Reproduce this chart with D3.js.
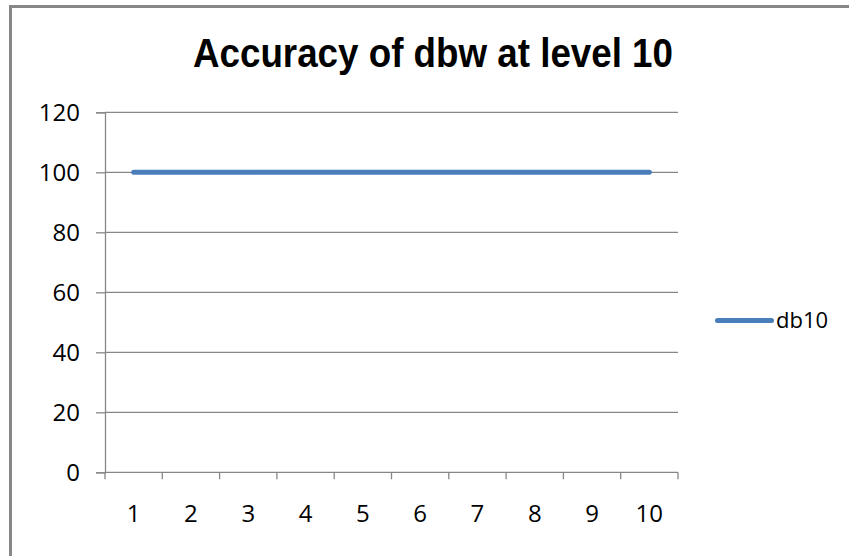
<!DOCTYPE html>
<html><head><meta charset="utf-8">
<script src="https://cdn.jsdelivr.net/npm/d3@7"></script>
<style>html,body{margin:0;padding:0;background:#fff;overflow:hidden}</style>
</head><body>
<script>
const categories = ["1","2","3","4","5","6","7","8","9","10"];
const seriesName = "db10";
const values = [100,100,100,100,100,100,100,100,100,100];
const yTicks = [0,20,40,60,80,100,120];
const title = "Accuracy of dbw at level 10";

const W = 849, H = 556;
const svg = d3.select("body").append("svg").attr("width", W).attr("height", H);
const font = "'Open Sans', 'Noto Sans', Arial, sans-serif";

// outer chart border (extends beyond view on right/bottom)
svg.append("path").attr("d", "M10.5,560 V6.5 H860")
  .attr("fill", "none").attr("stroke", "#878787").attr("stroke-width", 3);

const x0 = 105, x1 = 678, yTop = 112.3, yBot = 472.3;
const x = d3.scaleBand().domain(categories).range([x0, x1]);
const y = d3.scaleLinear().domain([0, 120]).range([yBot, yTop]);

// gridlines
svg.append("g").selectAll("line").data(yTicks.filter(d => d > 0)).join("line")
  .attr("x1", x0).attr("x2", x1).attr("y1", d => y(d)).attr("y2", d => y(d))
  .attr("stroke", "#878787").attr("stroke-width", 1.3);

// y axis
const yAxis = svg.append("g").attr("transform", `translate(${x0},0)`)
  .call(d3.axisLeft(y).tickValues(yTicks).tickSize(9).tickPadding(16));
yAxis.select(".domain").attr("stroke", "#878787").attr("stroke-width", 1.3);
yAxis.selectAll(".tick line").attr("stroke", "#878787").attr("stroke-width", 1.3);
yAxis.selectAll("text").attr("font-family", font).attr("font-size", 24).attr("fill", "#000").attr("dy", "0.36em");

// x axis with ticks at band boundaries
const xAxisG = svg.append("g").attr("transform", `translate(0,${yBot})`);
xAxisG.append("line").attr("x1", x0).attr("x2", x1).attr("stroke", "#878787").attr("stroke-width", 1.3);
const bounds = categories.map(c => x(c)).concat([x1]);
xAxisG.selectAll("line.t").data(bounds).join("line").attr("class", "t")
  .attr("x1", d => d).attr("x2", d => d).attr("y1", 0).attr("y2", 7)
  .attr("stroke", "#878787").attr("stroke-width", 1.3);
xAxisG.selectAll("text").data(categories).join("text")
  .attr("x", d => x(d) + x.bandwidth() / 2).attr("y", 50)
  .attr("text-anchor", "middle").attr("font-family", font).attr("font-size", 24).attr("fill", "#000")
  .text(d => d);

// line
const line = d3.line().x((d, i) => x(categories[i]) + x.bandwidth() / 2).y(d => y(d));
svg.append("path").datum(values).attr("d", line).attr("fill", "none")
  .attr("stroke", "#4A7EBB").attr("stroke-width", 5).attr("stroke-linecap", "round");

// title
svg.append("text").attr("x", 433).attr("y", 66.5).attr("text-anchor", "middle")
  .attr("font-family", "'Liberation Sans Narrow', 'Liberation Sans', Arial, sans-serif")
  .attr("font-weight", "bold").attr("font-size", 40)
  .attr("textLength", 480).attr("lengthAdjust", "spacingAndGlyphs")
  .attr("fill", "#000").text(title);

// legend
svg.append("line").attr("x1", 717.5).attr("x2", 771.5).attr("y1", 320.5).attr("y2", 320.5)
  .attr("stroke", "#4A7EBB").attr("stroke-width", 5).attr("stroke-linecap", "round");
svg.append("text").attr("x", 776).attr("y", 327.5).attr("font-family", font).attr("font-size", 22)
  .attr("fill", "#000").text(seriesName);
</script>
</body></html>
